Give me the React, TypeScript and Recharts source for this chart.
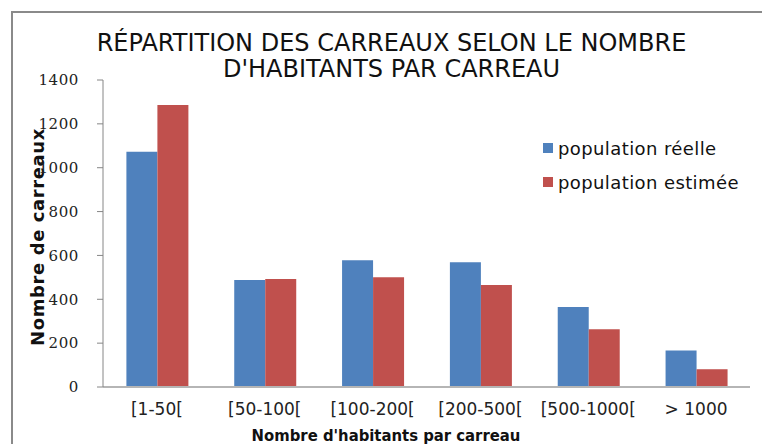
import React from "react";
import { BarChart, Bar, XAxis, YAxis } from "recharts";

const categories = ["[1-50[", "[50-100[", "[100-200[", "[200-500[", "[500-1000[", "> 1000"];
const reelle = [1073, 488, 578, 569, 365, 166];
const estimee = [1286, 492, 500, 465, 263, 81];
const yTicks = [0, 200, 400, 600, 800, 1000, 1200, 1400];

const SERIES = [
  { key: "reelle", name: "population réelle", color: "#4F81BD" },
  { key: "estimee", name: "population estimée", color: "#C0504D" },
];

const data = categories.map((c, i) => ({ cat: c, reelle: reelle[i], estimee: estimee[i] }));

const FRAME = "#8a8a8a";

// legend drawn by hand so it doesn't eat into the plot area
function LegendBox() {
  return (
    <div
      style={{
        position: "absolute",
        left: 543,
        top: 131,
        fontFamily: "'DejaVu Sans', Verdana, sans-serif",
        fontSize: 18,
        letterSpacing: 0.4,
        color: "#111",
      }}
    >
      {SERIES.map((s) => (
        <div key={s.key} style={{ display: "flex", alignItems: "center", height: 34, whiteSpace: "nowrap" }}>
          <span style={{ width: 10, height: 10, background: s.color, display: "inline-block", marginRight: 5 }} />
          <span>{s.name}</span>
        </div>
      ))}
    </div>
  );
}

export default function App() {
  return (
    <div
      style={{
        position: "fixed",
        left: 0,
        top: 0,
        width: 762,
        height: 444,
        overflow: "hidden",
        background: "#fff",
      }}
    >
      <style>{`html, body { margin: 0; overflow: hidden; }`}</style>
      {/* chart frame: only top and left edges show in the crop */}
      <div style={{ position: "absolute", left: 11, top: 11, width: 751, height: 2, background: FRAME }} />
      <div style={{ position: "absolute", left: 11, top: 11, width: 2, height: 433, background: FRAME }} />
      <div
        style={{
          position: "absolute",
          left: 0,
          width: 783,
          top: 30,
          textAlign: "center",
          fontFamily: "'DejaVu Sans', Tahoma, sans-serif",
          fontSize: 24,
          lineHeight: "26px",
          color: "#111",
        }}
      >
        RÉPARTITION DES CARREAUX SELON LE NOMBRE
        <br />
        D'HABITANTS PAR CARREAU
      </div>
      <div
        style={{
          position: "absolute",
          left: 37,
          top: 237,
          transform: "translate(-50%, -50%) rotate(-90deg)",
          whiteSpace: "nowrap",
          fontFamily: "'DejaVu Sans', Tahoma, sans-serif",
          fontWeight: "bold",
          fontSize: 18,
          letterSpacing: 0.6,
          color: "#111",
        }}
      >
        Nombre de carreaux
      </div>
      <div
        style={{
          position: "absolute",
          left: 386,
          top: 435,
          transform: "translate(-50%, -50%)",
          whiteSpace: "nowrap",
          fontFamily: "'DejaVu Sans Condensed', Tahoma, sans-serif",
          fontWeight: "bold",
          fontSize: 16.5,
          color: "#111",
        }}
      >
        Nombre d'habitants par carreau
      </div>
      <div style={{ position: "absolute", left: 0, top: 0 }}>
        <BarChart
          width={762}
          height={444}
          data={data}
          margin={{ top: 80, right: 12, bottom: 0, left: 0 }}
          barCategoryGap="21.7%"
          barGap={0}
        >
          <XAxis
            dataKey="cat"
            height={57}
            axisLine={{ stroke: "#b5b5b5", strokeWidth: 2 }}
            tickLine={false}
            tickMargin={10}
            interval={0}
            tick={{ fontFamily: "'DejaVu Sans', Verdana, sans-serif", fontSize: 17, fill: "#222" }}
          />
          <YAxis
            width={103}
            domain={[0, 1400]}
            ticks={yTicks}
            interval={0}
            axisLine={{ stroke: "#868686" }}
            tickLine={{ stroke: "#868686" }}
            tickSize={6}
            tickMargin={18}
            tick={{ fontFamily: "'DejaVu Serif', serif", fontSize: 15, letterSpacing: 0.6, fill: "#222" }}
          />
          {SERIES.map((s) => (
            <Bar key={s.key} dataKey={s.key} name={s.name} fill={s.color} isAnimationActive={false} />
          ))}
        </BarChart>
      </div>
      <LegendBox />
    </div>
  );
}
